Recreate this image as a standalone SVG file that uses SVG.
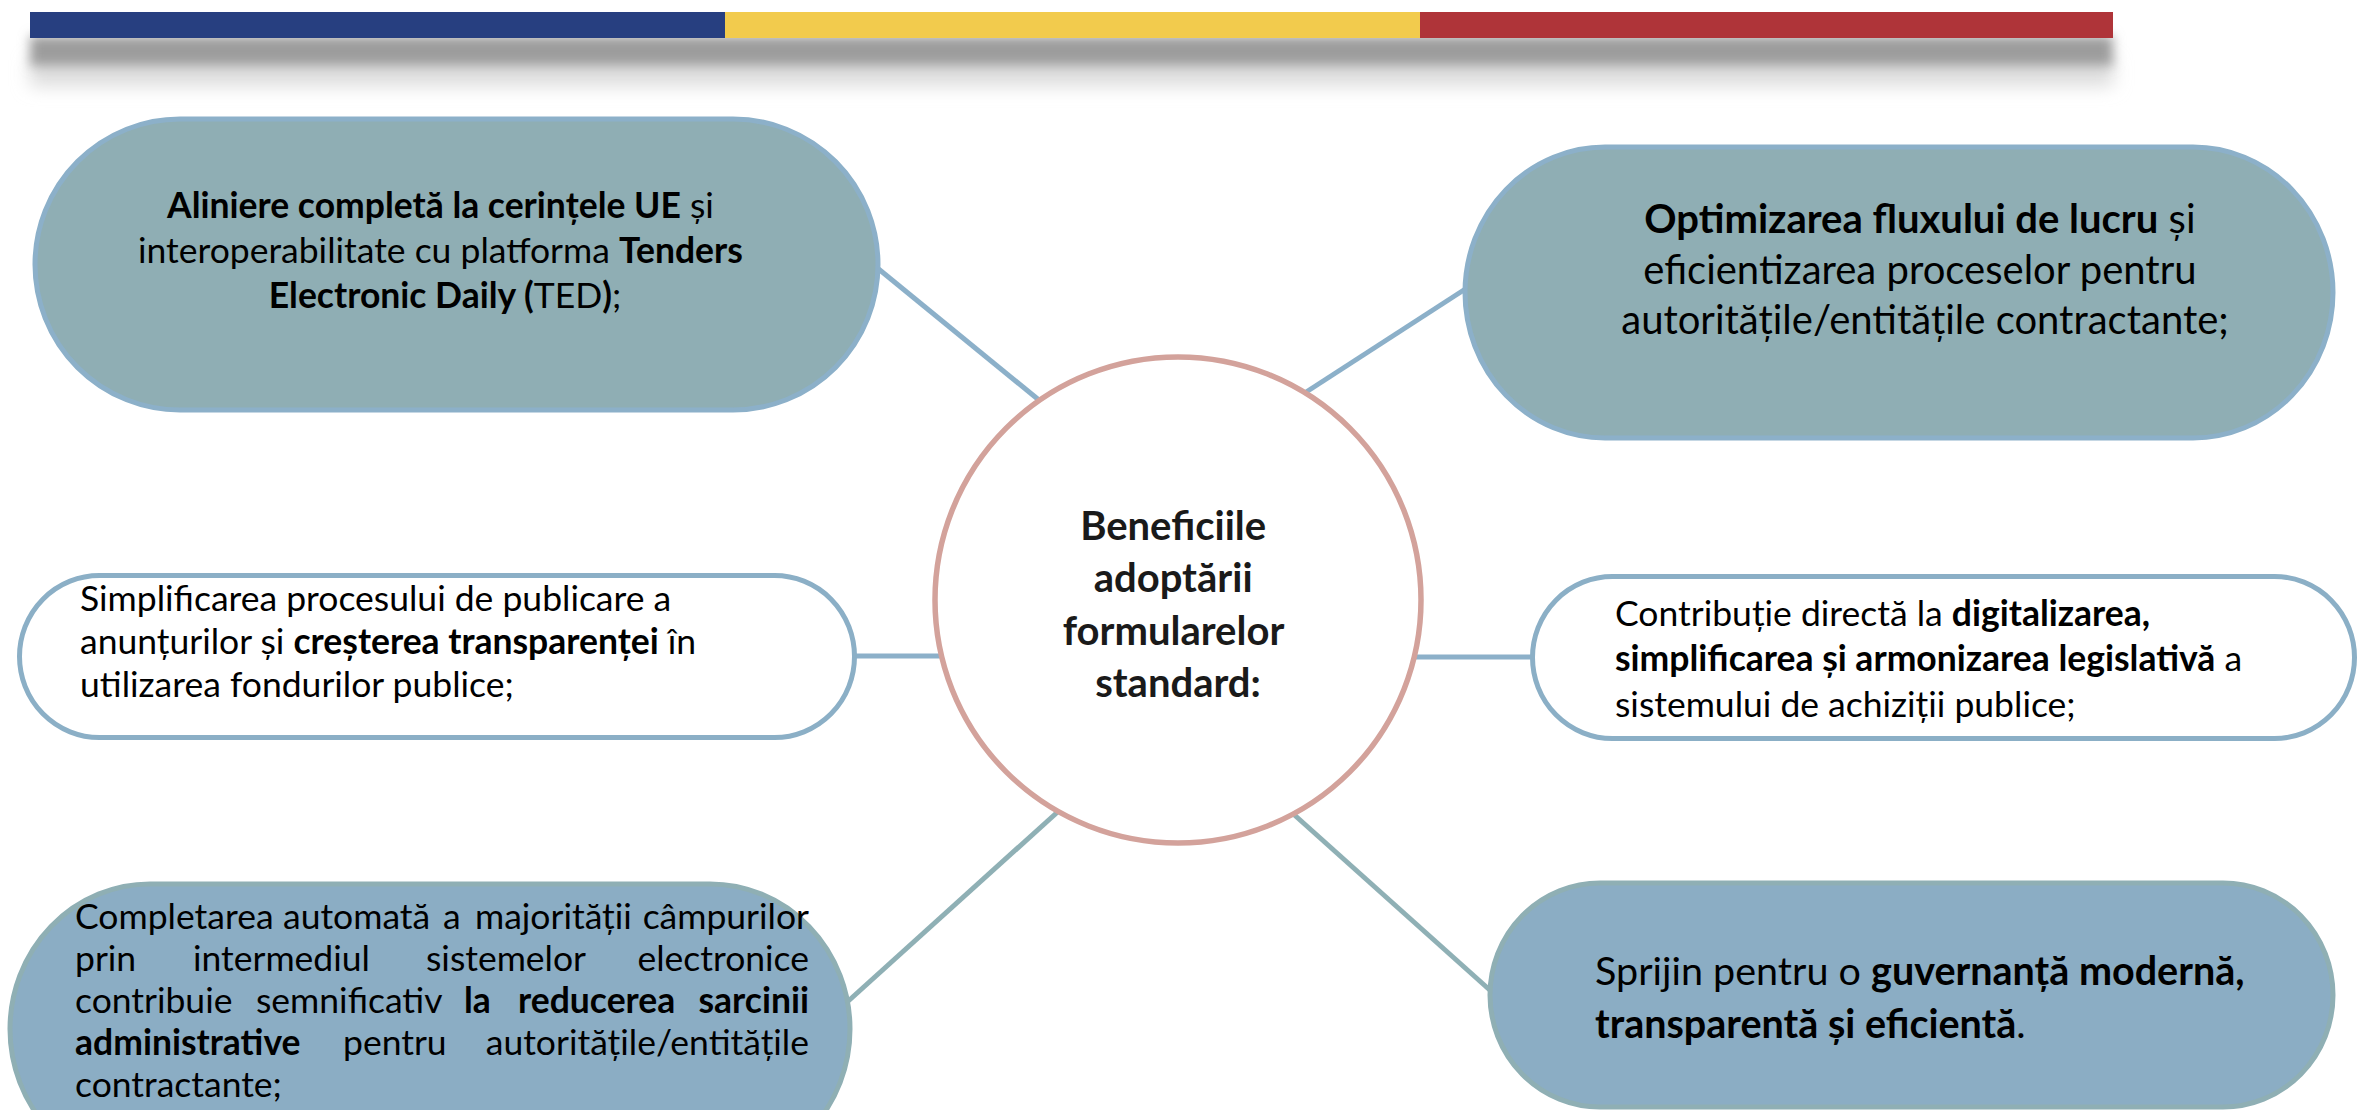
<svg xmlns="http://www.w3.org/2000/svg" width="2358" height="1110" viewBox="0 0 2358 1110">
<defs>
<filter id="blur1" x="-5%" y="-100%" width="110%" height="300%"><feGaussianBlur stdDeviation="6"/></filter>
<filter id="blur2" x="-5%" y="-100%" width="110%" height="300%"><feGaussianBlur stdDeviation="9"/></filter>
</defs>
<style>
text{font-family:Lato,"Liberation Sans",sans-serif;fill:#000}
.b{font-weight:bold}
.t37{font-size:35.5px}
.t42{font-size:40px}
.t41{font-size:39.5px}
.ctr{font-size:40px;font-weight:bold;fill:#1a1a1a}
.topn{fill:#8FAEB4;stroke:#8CB0C9;stroke-width:5}
.botn{fill:#8BADC4;stroke:#8FAFB4;stroke-width:5}
.midn{fill:#FFFFFF;stroke:#8BAFC6;stroke-width:5}
.cb{stroke:#8CB0C9;stroke-width:5;fill:none}
.ct{stroke:#8FB0B5;stroke-width:5;fill:none}
</style>
<rect width="2358" height="1110" fill="#FFFFFF"/>
<g id="header-bar">
<rect x="30" y="60" width="2083" height="26" fill="#dcdcdc" filter="url(#blur2)"/>
<rect x="30" y="36" width="2083" height="30" fill="#9c9c9c" filter="url(#blur1)"/>
<rect x="30" y="12" width="695" height="26" fill="#273F80"/>
<rect x="725" y="12" width="695" height="26" fill="#F2CB4D"/>
<rect x="1420" y="12" width="693" height="26" fill="#AF3439"/>
</g>
<g id="connectors">
<line class="cb" x1="870" y1="262" x2="1045" y2="405"/>
<line class="cb" x1="1470" y1="286" x2="1300" y2="396"/>
<line class="cb" x1="850" y1="656" x2="940" y2="656"/>
<line class="cb" x1="1416" y1="657" x2="1535" y2="657"/>
<line class="ct" x1="845" y1="1004" x2="1062" y2="808"/>
<line class="ct" x1="1290" y1="811" x2="1492" y2="992"/>
</g>
<g id="node-aliniere">
<rect class="topn" x="35" y="119" width="843" height="291" rx="145" ry="146"/>
<text class="t37" text-anchor="middle">
<tspan x="445" y="218"><tspan class="b">Aliniere completă la cerințele UE</tspan> și</tspan>
<tspan x="445" y="263">interoperabilitate cu platforma <tspan class="b">Tenders</tspan></tspan>
<tspan x="445" y="308"><tspan class="b">Electronic Daily (</tspan>TED<tspan class="b">)</tspan>;</tspan>
</text>
</g>
<g id="node-optimizarea">
<rect class="topn" x="1465" y="147" width="868" height="291" rx="140" ry="146"/>
<text class="t42" text-anchor="middle">
<tspan x="1925" y="233"><tspan class="b">Optimizarea fluxului de lucru</tspan> și</tspan>
<tspan x="1925" y="284">eficientizarea proceselor pentru</tspan>
<tspan x="1925" y="334">autoritățile/entitățile contractante;</tspan>
</text>
</g>
<g id="node-simplificarea">
<rect class="midn" x="19.5" y="575.5" width="835" height="162" rx="80" ry="81"/>
<text class="t37">
<tspan x="80" y="611">Simplificarea procesului de publicare a</tspan>
<tspan x="80" y="654">anunțurilor și <tspan class="b">creșterea transparenței</tspan> în</tspan>
<tspan x="80" y="697">utilizarea fondurilor publice;</tspan>
</text>
</g>
<g id="node-contributie">
<rect class="midn" x="1532.5" y="576.5" width="822" height="162" rx="80" ry="81"/>
<text class="t37">
<tspan x="1615" y="626">Contribuție directă la <tspan class="b">digitalizarea,</tspan></tspan>
<tspan x="1615" y="671"><tspan class="b">simplificarea și armonizarea legislativă</tspan> a</tspan>
<tspan x="1615" y="717">sistemului de achiziții publice;</tspan>
</text>
</g>
<g id="node-completarea">
<rect class="botn" x="10" y="884" width="840" height="290" rx="140" ry="146"/>
<text class="t37">
<tspan x="75" y="929">Completarea</tspan><tspan x="283" y="929">automată</tspan><tspan x="443" y="929">a</tspan><tspan x="475" y="929">majorității</tspan>
<tspan x="809" y="929" text-anchor="end">câmpurilor</tspan>
</text>
<text class="t37">
<tspan x="75" y="971">prin</tspan><tspan x="193" y="971">intermediul</tspan><tspan x="426" y="971">sistemelor</tspan>
</text>
<text class="t37" x="809" y="971" text-anchor="end">electronice</text>
<text class="t37">
<tspan x="75" y="1013">contribuie</tspan><tspan x="256" y="1013">semnificativ</tspan><tspan class="b" x="464" y="1013">la</tspan><tspan class="b" x="518" y="1013">reducerea</tspan>
</text>
<text class="t37 b" x="809" y="1013" text-anchor="end">sarcinii</text>
<text class="t37">
<tspan class="b" x="75" y="1055">administrative</tspan><tspan x="343" y="1055">pentru</tspan>
</text>
<text class="t37" x="809" y="1055" text-anchor="end">autoritățile/entitățile</text>
<text class="t37" x="75" y="1097">contractante;</text>
</g>
<g id="node-sprijin">
<rect class="botn" x="1490" y="883" width="843" height="224" rx="110" ry="112"/>
<text class="t41">
<tspan x="1595" y="985">Sprijin pentru o <tspan class="b">guvernanță modernă,</tspan></tspan>
<tspan x="1595" y="1038"><tspan class="b">transparentă și eficientă</tspan>.</tspan>
</text>
</g>
<g id="node-center">
<circle cx="1178" cy="600" r="243" fill="#FFFFFF" stroke="#D3A29B" stroke-width="5.5"/>
<text class="ctr" text-anchor="middle">
<tspan x="1178" y="540">Beneficiile</tspan>
<tspan x="1178" y="592">adoptării</tspan>
<tspan x="1178" y="645">formularelor</tspan>
<tspan x="1178" y="697">standard:</tspan>
</text>
</g>
</svg>
